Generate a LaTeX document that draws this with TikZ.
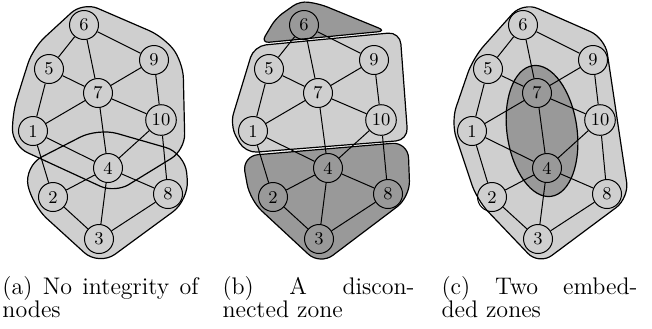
\documentclass[tikz,border=0pt]{standalone}
\usepackage{tikz}

\colorlet{zonelight}{black!19}
\colorlet{zonedark}{black!40}

\tikzset{
  vertex/.style={draw,circle,minimum size=14.5pt,inner sep=1.5pt,
                 font=\fontsize{9pt}{10pt}\selectfont},
  zone/.style={draw,line width=0.6pt},
  caption/.style={anchor=north west,inner sep=0pt,text width=98pt,align=left,
                  font=\fontsize{12pt}{11.5pt}\selectfont},
}

% the same ten nodes and edges in every panel, #1 = prefix of the names
\newcommand{\zonegraph}[1]{%
  \foreach \n/\px/\py in {6/84/25,5/49/69,9/154/60,7/98/93,1/33/131,
                          10/161/120,4/108/168,2/53/197,8/168/194,3/99/239}
    \node[vertex] (#1\n) at (\px,\py) {\n};
  \foreach \u/\v in {6/5,6/7,6/9,5/7,5/1,9/7,9/10,7/1,7/10,7/4,
                     1/4,1/2,10/4,10/8,4/2,4/8,4/3,2/3,8/3}
    \draw (#1\u) -- (#1\v);
}

\begin{document}
\begin{tikzpicture}[x=0.5pt,y=-0.5pt,line width=0.5pt]
  \useasboundingbox (0,0) rectangle (652,328);

  % (a) two zones sharing node 4
  \path[rounded corners=8pt,save path=\zoneup]
    (22,82) -- (33,48) -- (83,2) -- (164,37) -- (183,62) -- (185,150)
    -- (115,193) -- (13,146) -- (12,115) -- cycle;
  \path[rounded corners=10pt,save path=\zonelow]
    (144,233) -- (99,266) -- (32,205) -- (24,166) -- (98,128)
    -- (185,153) -- (189,200) -- cycle;
  \fill[zonelight,use path=\zoneup];
  \fill[zonelight,use path=\zonelow];
  \draw[zone,use path=\zoneup];
  \draw[zone,use path=\zonelow];
  \zonegraph{a}

  % (b) three zones
  \begin{scope}[xshift=110pt]
    \draw[zone,fill=zonedark,rounded corners=4pt]
      (104,37) -- (41,43) -- (56,18) -- (80,1) -- (100,4) -- (166,31) -- cycle;
    \draw[zone,fill=zonelight,rounded corners=6pt]
      (107,39) -- (180,32) -- (188,140) -- (25,153) -- (10,125) -- (34,46) -- cycle;
    \draw[zone,fill=zonedark,rounded corners=8pt]
      (145,231) -- (100,265) -- (30,200) -- (22,156) -- (188,142)
      -- (190,197) -- cycle;
    \zonegraph{b}
  \end{scope}

  % (c) one zone inside another
  \begin{scope}[xshift=219.5pt]
    \draw[zone,fill=zonelight,rounded corners=8pt]
      (125,20) -- (166,38) -- (190,198) -- (100,265) -- (38,200)
      -- (12,122) -- (34,58) -- (84,2) -- cycle;
    \draw[zone,fill=zonedark]
      (103,131) ellipse [x radius=17.5pt,y radius=33pt,rotate=8];
    \zonegraph{c}
  \end{scope}

  \node[caption] (capa) at (2,276) {(a)\hfill No\hfill integrity\hfill of\\nodes};
  \node[caption,text width=96pt] (capb) at (222,276) {(b)\hfill A\hfill discon-\\nected zone};
  \node[caption] (capc) at (441,276) {(c)\hfill Two\hfill embed-\\ded zones};
\end{tikzpicture}
\end{document}
